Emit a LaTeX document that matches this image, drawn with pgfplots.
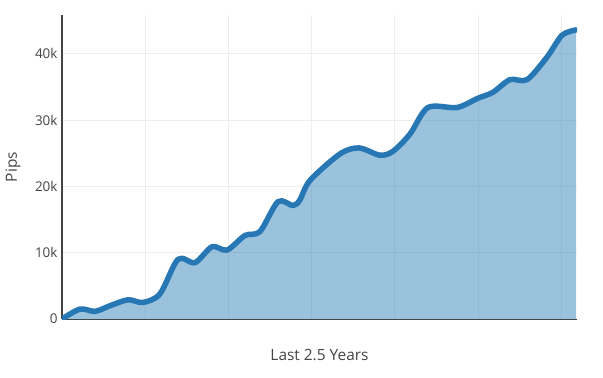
\documentclass[border=0pt]{standalone}
\usepackage{fontspec}
\setmainfont{Open Sans}
\usepackage{pgfplots}
\pgfplotsset{compat=1.18}
\usepackage{pgfplotstable}
\definecolor{linec}{HTML}{2677B4}
\definecolor{fillc}{HTML}{1F77B4}
\definecolor{txt}{HTML}{444444}
\definecolor{gridc}{HTML}{EEEEEE}
\pgfplotstableread{
x y
0 0
18 1500
33 1150
48 2000
66 2900
81 2500
98 3800
116 9000
133 8500
150 10900
165 10400
183 12600
198 13200
216 17700
231 17100
238 18000
248 20900
278 24900
297 25800
318 24700
331 25300
348 27900
366 31900
395 31900
416 33300
431 34200
448 36100
465 36100
485 39500
500 42800
514 43600
}\datatable
\begin{document}
\begin{tikzpicture}
\useasboundingbox (-62bp,-59bp) rectangle (541bp,319bp);
\begin{axis}[
  at={(0,0)}, anchor=south west,
  scale only axis, width=515bp, height=304bp,
  xmin=0, xmax=515, ymin=0, ymax=45850,
  xtick={83.2,166.4,249.6,332.8,416,499.2},
  xticklabels={},
  ytick={0,10000,20000,30000,40000},
  yticklabels={0,10k,20k,30k,40k},
  scaled y ticks=false,
  /pgf/number format/assume math mode=true,
  major tick length=0pt,
  grid=major,
  major grid style={draw=gridc, line width=1bp},
  axis x line*=bottom, axis y line*=left,
  x axis line style={draw=txt, line width=1bp, -},
  y axis line style={draw=txt, line width=2.2bp, -},
  tick label style={font=\fontsize{13.5}{16}\selectfont, text=txt},
  yticklabel style={xshift=-1bp},
  label style={font=\fontsize{15.5}{18}\selectfont, text=txt},
  xlabel={Last 2.5 Years},
  ylabel={Pips},
  xlabel style={at={(axis description cs:0.5,-0.118)}, anchor=center},
  ylabel style={at={(axis description cs:-0.095,0.5)}, anchor=center, rotate=0},
  clip=true,
]
\addplot[draw=none, fill=fillc, fill opacity=0.45, smooth, tension=0.5] table[x=x,y=y]{\datatable} \closedcycle;
\addplot[linec, line width=5.5bp, smooth, tension=0.5, line join=round, line cap=round] table[x=x,y=y]{\datatable};
\end{axis}
\end{tikzpicture}
\end{document}
